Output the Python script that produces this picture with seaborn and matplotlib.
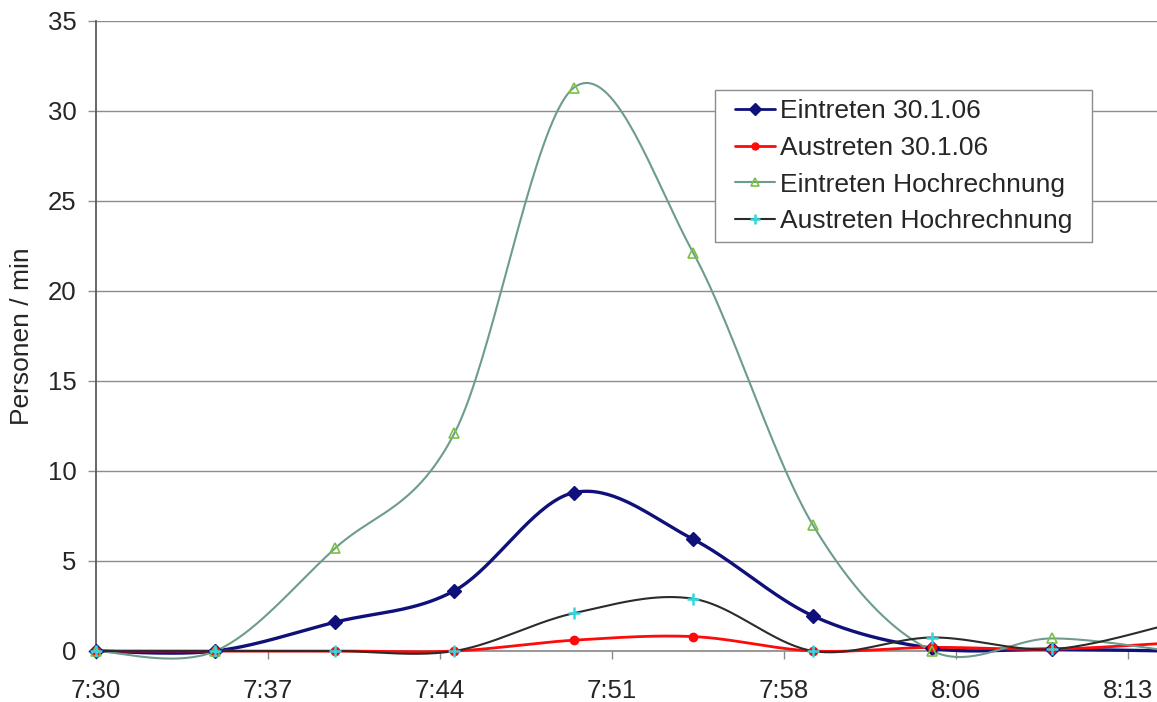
import numpy as np
import pandas as pd
import seaborn as sns
import matplotlib
matplotlib.use("Agg")
import matplotlib.pyplot as plt
from matplotlib.lines import Line2D
from matplotlib.legend_handler import HandlerLine2D

# ---- data ----
times = ["7:30", "7:35", "7:40", "7:45", "7:50", "7:55", "8:00", "8:05", "8:10", "8:15"]
eintreten = [0, 0, 1.6, 3.35, 8.8, 6.2, 1.95, 0.15, 0.1, 0.0]
austreten = [0, 0, 0, 0, 0.6, 0.8, 0, 0.2, 0.1, 0.45]
eintreten_hr = [0, 0, 5.7, 12.1, 31.3, 22.1, 7.0, 0.0, 0.7, 0.0]
austreten_hr = [0, 0, 0, 0, 2.1, 2.9, 0, 0.75, 0.1, 1.5]
tick_labels = ["7:30", "7:37", "7:44", "7:51", "7:58", "8:06", "8:13"]

series_names = ["Eintreten 30.1.06", "Austreten 30.1.06",
                "Eintreten Hochrechnung", "Austreten Hochrechnung"]


def minutes(t):
    h, m = t.split(":")
    return (int(h) - 7) * 60 + int(m) - 30


xm = np.array([minutes(t) for t in times], dtype=float)


def smooth(x, y, n=40):
    """Excel-like smoothed line (Bezier through the points, tension 1/6)."""
    x = np.asarray(x, float)
    y = np.asarray(y, float)
    px = np.concatenate([[x[0]], x, [x[-1]]])
    py = np.concatenate([[y[0]], y, [y[-1]]])
    xs, ys = [], []
    t = np.linspace(0, 1, n)
    for i in range(1, len(px) - 2):
        p0 = np.array([px[i], py[i]])
        p3 = np.array([px[i + 1], py[i + 1]])
        c1 = p0 + (p3 - np.array([px[i - 1], py[i - 1]])) / 6
        c2 = p3 - (np.array([px[i + 2], py[i + 2]]) - p0) / 6
        b = ((1 - t) ** 3)[:, None] * p0 + (3 * (1 - t) ** 2 * t)[:, None] * c1 \
            + (3 * (1 - t) * t ** 2)[:, None] * c2 + (t ** 3)[:, None] * p3
        xs.extend(b[:, 0])
        ys.extend(b[:, 1])
    return np.array(xs), np.array(ys)


sns.set_theme(style="white")
plt.rcParams["font.family"] = ["Liberation Sans", "DejaVu Sans"]

fig = plt.figure(figsize=(11.57, 7.02), dpi=100)
ax = fig.add_axes([96 / 1157, 51 / 702, (1157 - 96) / 1157, (651 - 21) / 702])

styles = [
    dict(line="#10107a", lw=2.4, marker="D", ms=7, mfc="#10107a", mec="#10107a", mew=1),
    dict(line="#ff0a0a", lw=2.0, marker="o", ms=6, mfc="#ff0a0a", mec="#ff0a0a", mew=1),
    dict(line="#6d9c8c", lw=1.5, marker="^", ms=7, mfc="none", mec="#7bc043", mew=1.2),
    dict(line="#2b2b2b", lw=1.5, marker="+", ms=8, mfc="none", mec="#33d6e0", mew=1.8),
]
all_vals = [eintreten, austreten, eintreten_hr, austreten_hr]

draw_order = [2, 3, 1, 0]
for k in draw_order:
    vals = all_vals[k]
    st = styles[k]
    sx, sy = smooth(xm, vals)
    df = pd.DataFrame({"x": sx, "y": sy})
    sns.lineplot(data=df, x="x", y="y", ax=ax, color=st["line"], lw=st["lw"],
                 sort=False, estimator=None, clip_on=False, zorder=3 + k)
    ax.plot(xm, vals, linestyle="none", marker=st["marker"], ms=st["ms"],
            mfc=st["mfc"], mec=st["mec"], mew=st["mew"], clip_on=False, zorder=10 + k)

ax.set_xlim(0, 44.4)
ax.set_ylim(0, 35)
ax.set_yticks(np.arange(0, 36, 5))
ax.set_yticklabels([str(v) for v in range(0, 36, 5)], fontsize=18.5)
ax.set_xticks(np.arange(len(tick_labels)) * 7.2)
ax.set_xticklabels(tick_labels, fontsize=18.5)
ax.yaxis.grid(True, color="#8c8c8c", lw=1.0)
ax.xaxis.grid(False)
ax.set_axisbelow(True)
for s in ["top", "right"]:
    ax.spines[s].set_visible(False)
ax.spines["left"].set_color("#555555")
ax.spines["bottom"].set_color("#8c8c8c")
ax.tick_params(axis="x", direction="out", length=6, color="#8c8c8c", width=1, pad=14, bottom=True)
ax.tick_params(axis="y", direction="out", length=6, color="#8c8c8c", width=1, pad=8, left=True)
ax.set_xlabel("")
ax.set_ylabel("Personen / min", fontsize=19, labelpad=10)

handles = []
for k in range(4):
    st = styles[k]
    handles.append(Line2D([0], [0], color=st["line"], lw=min(st["lw"], 2.0), marker=st["marker"],
                          ms=st["ms"] - 1, mfc=st["mfc"], mec=st["mec"], mew=st["mew"]))
hmap = {h: HandlerLine2D(xpad=0.42) for h in handles}
x0 = (715 - 96) / 1061
w = (1092 - 715) / 1061
top = (651 - 90) / 630
leg = ax.legend(handles, series_names, loc="upper left",
                bbox_to_anchor=(x0, top - 0.4, w, 0.4), mode="expand",
                fontsize=19, frameon=True, fancybox=False, framealpha=1,
                edgecolor="#8c8c8c", handlelength=1.92, handletextpad=0.2,
                borderpad=0.35, labelspacing=0.48, borderaxespad=0,
                handler_map=hmap)
leg.get_frame().set_linewidth(1.0)

fig.savefig("out.png", dpi=100, facecolor="white")
